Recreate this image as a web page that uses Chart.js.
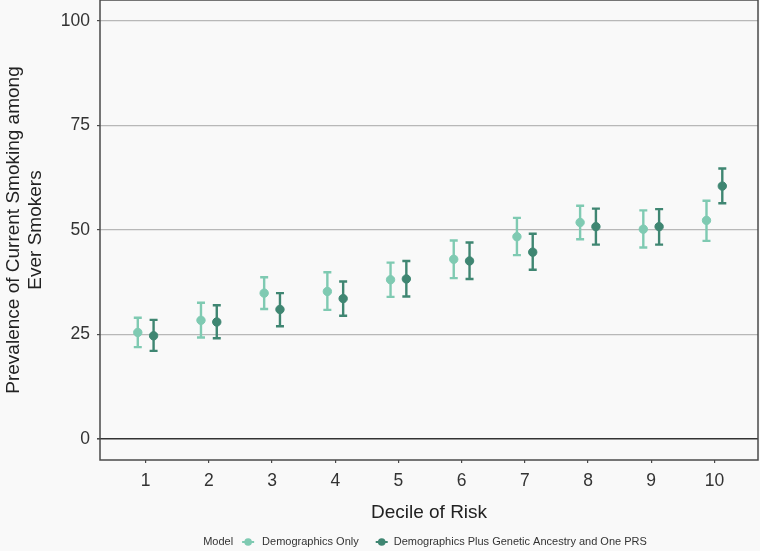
<!DOCTYPE html>
<html>
<head>
<meta charset="utf-8">
<script src="https://cdn.jsdelivr.net/npm/chart.js@4.4.1/dist/chart.umd.min.js"></script>
<style>
  html, body { margin: 0; padding: 0; background: #f9f9f9; }
  #wrap { width: 760px; height: 551px; }
</style>
</head>
<body>
<div id="wrap"><canvas id="chart"></canvas></div>
<script>
const deciles = [1, 2, 3, 4, 5, 6, 7, 8, 9, 10];
const yTicks = [0, 25, 50, 75, 100];

// Demographics Only
const demoOnly     = [25.5, 28.4, 34.9, 35.3, 38.1, 43.0, 48.4, 51.8, 50.2, 52.3];
const demoOnlyLow  = [22.0, 24.3, 31.1, 30.9, 34.0, 38.5, 44.0, 47.8, 45.8, 47.4];
const demoOnlyHigh = [29.0, 32.6, 38.7, 39.9, 42.2, 47.5, 52.9, 55.8, 54.7, 57.0];

// Demographics Plus Genetic Ancestry and One PRS
const demoPrs      = [24.7, 28.0, 31.0, 33.6, 38.3, 42.6, 44.7, 50.8, 50.8, 60.5];
const demoPrsLow   = [21.1, 24.1, 27.0, 29.5, 34.1, 38.3, 40.5, 46.5, 46.5, 56.4];
const demoPrsHigh  = [28.5, 32.0, 34.9, 37.7, 42.6, 47.0, 49.1, 55.1, 55.0, 64.7];

const lightCol = '#7fcab2';
const darkCol = '#3f8672';
const dodge = 0.125;
const fontFam = "'Liberation Sans', Arial, Helvetica, sans-serif";

function points(vals, low, high, shift) {
  return deciles.map((d, i) => ({ x: d + shift, y: vals[i], lo: low[i], hi: high[i] }));
}

const errorBars = {
  id: 'errorBars',
  beforeDatasetsDraw(chart) {
    const { ctx, scales: { x, y } } = chart;
    ctx.save();
    chart.data.datasets.forEach(ds => {
      ctx.strokeStyle = ds.borderColor;
      ctx.lineWidth = 2.4;
      ds.data.forEach(p => {
        const px = x.getPixelForValue(p.x);
        const top = y.getPixelForValue(p.hi);
        const bot = y.getPixelForValue(p.lo);
        ctx.beginPath();
        ctx.moveTo(px, top); ctx.lineTo(px, bot);
        ctx.moveTo(px - 4, top); ctx.lineTo(px + 4, top);
        ctx.moveTo(px - 4, bot); ctx.lineTo(px + 4, bot);
        ctx.stroke();
      });
    });
    ctx.restore();
  }
};

const frameAndLegend = {
  id: 'frameAndLegend',
  afterDraw(chart) {
    const { ctx, chartArea: a } = chart;
    ctx.save();
    ctx.strokeStyle = '#4a4a4a';
    ctx.lineWidth = 1.5;
    ctx.strokeRect(a.left, a.top, a.right - a.left, a.bottom - a.top);

    // legend
    const ly = 542;
    const items = chart.data.datasets;
    const title = 'Model';
    ctx.textBaseline = 'middle';
    ctx.font = '11px ' + fontFam;
    const titleW = ctx.measureText(title).width;
    const widths = items.map(ds => ctx.measureText(ds.label).width);
    const total = titleW + 15 + widths[0] + 14 + 23 + 12 + widths[1];
    let cx = 425 - total / 2;
    ctx.fillStyle = '#333';
    ctx.fillText(title, cx, ly);
    let mx = cx + titleW + 15;
    items.forEach((ds, i) => {
      ctx.strokeStyle = ds.borderColor;
      ctx.fillStyle = ds.backgroundColor;
      ctx.lineWidth = 2;
      ctx.beginPath();
      ctx.moveTo(mx - 6, ly); ctx.lineTo(mx + 6, ly);
      ctx.stroke();
      ctx.beginPath();
      ctx.arc(mx, ly, 3.8, 0, Math.PI * 2);
      ctx.fill();
      ctx.fillStyle = '#333';
      const tx = mx + (i === 0 ? 14 : 12);
      ctx.fillText(ds.label, tx, ly);
      mx = tx + widths[i] + 23;
    });
    ctx.restore();
  }
};

new Chart(document.getElementById('chart'), {
  type: 'scatter',
  data: {
    datasets: [
      {
        label: 'Demographics Only',
        data: points(demoOnly, demoOnlyLow, demoOnlyHigh, -dodge),
        backgroundColor: lightCol,
        borderColor: lightCol,
        pointRadius: 4.2,
        pointHoverRadius: 4.2
      },
      {
        label: 'Demographics Plus Genetic Ancestry and One PRS',
        data: points(demoPrs, demoPrsLow, demoPrsHigh, dodge),
        backgroundColor: darkCol,
        borderColor: darkCol,
        pointRadius: 4.2,
        pointHoverRadius: 4.2
      }
    ]
  },
  plugins: [errorBars, frameAndLegend],
  options: {
    responsive: true,
    maintainAspectRatio: false,
    animation: false,
    layout: { autoPadding: false, padding: { top: 0, right: 2, left: 0, bottom: 30 } },
    plugins: {
      legend: { display: false },
      tooltip: { enabled: false }
    },
    scales: {
      x: {
        type: 'linear',
        min: 0.277,
        max: 10.69,
        afterFit: s => { s.height = 61; s.paddingLeft = 0; s.paddingRight = 0; },
        afterBuildTicks: s => { s.ticks = deciles.map(v => ({ value: v })); },
        border: { display: false },
        grid: { drawOnChartArea: false, drawTicks: true, tickLength: 3, color: '#4a4a4a', lineWidth: 1.2 },
        ticks: { color: '#333', padding: 8, font: { family: fontFam, size: 17.5 } },
        title: {
          display: true,
          text: 'Decile of Risk',
          color: '#222',
          font: { family: fontFam, size: 19 },
          padding: { top: 4, bottom: -3 }
        }
      },
      y: {
        min: -5,
        max: 105,
        afterFit: s => { s.width = 100; s.paddingTop = 0; s.paddingBottom = 0; },
        afterBuildTicks: s => { s.ticks = yTicks.map(v => ({ value: v })); },
        border: { display: false },
        grid: {
          color: c => c.tick && c.tick.value === 0 ? '#333' : '#b8b8b8',
          lineWidth: c => c.tick && c.tick.value === 0 ? 1.6 : 1.2,
          tickLength: 3,
          tickColor: '#4a4a4a'
        },
        ticks: { color: '#333', padding: 7, font: { family: fontFam, size: 17.5 } },
        title: {
          display: true,
          text: ['Prevalence of Current Smoking among', 'Ever Smokers'],
          color: '#222',
          font: { family: fontFam, size: 19, lineHeight: 1.15 },
          padding: { top: 3, bottom: 0 }
        }
      }
    }
  }
});
</script>
</body>
</html>
